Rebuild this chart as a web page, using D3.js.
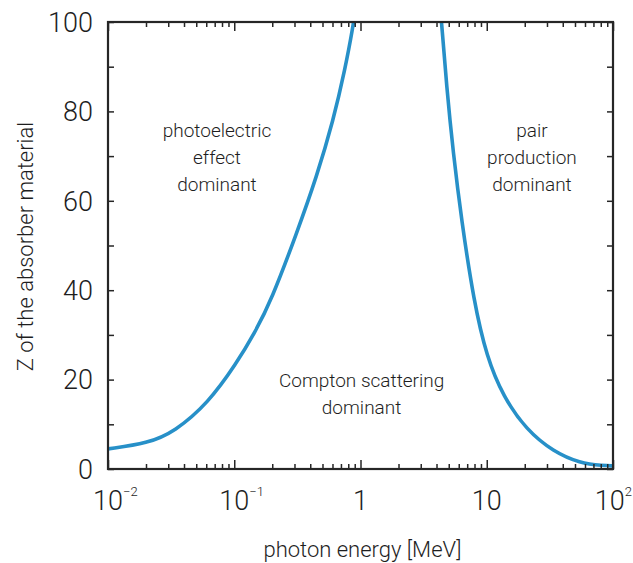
<!DOCTYPE html>
<html>
<head>
<meta charset="utf-8">
<script src="https://cdn.jsdelivr.net/npm/d3@7"></script>
<style>
  body { margin: 0; background: #fff; }
  svg text { font-family: Roboto, "Liberation Sans", sans-serif; font-weight: 300; fill: #1e1e1e; }
</style>
</head>
<body>
<div id="chart"></div>
<script>
// boundary where photoelectric effect and Compton scattering are equally likely
var photoE = [0.01, 0.0207, 0.0337, 0.062, 0.104, 0.145, 0.197, 0.312, 0.45, 0.61, 0.753, 0.877, 0.9];
var photoZ = [4.5, 5.75, 8.35, 14.7, 23.6, 30.4, 37.8, 52.7, 65.4, 78.1, 89.3, 99.3, 102];
// boundary where Compton scattering and pair production are equally likely
var pairE = [4.3, 4.39, 4.81, 5.43, 6.31, 7.9, 9.98, 13.5, 20.7, 33.7, 54.8, 83.8, 100];
var pairZ = [102, 100, 85.5, 70.6, 55.7, 37.5, 25.1, 16.2, 8.7, 3.9, 1.3, 0.75, 0.7];

var xTicks = [0.01, 0.1, 1, 10, 100];
var xTickBase = ["10", "10", "1", "10", "10"];
var xTickExp = ["\u22122", "\u22121", "", "", "2"];
var yTicks = [0, 20, 40, 60, 80, 100];

var regionLabels = [
  { lines: ["photoelectric", "effect", "dominant"], x: 0.073, z: 74.3 },
  { lines: ["Compton scattering", "dominant"], x: 1.02, z: 18.3 },
  { lines: ["pair", "production", "dominant"], x: 22.8, z: 74.3 }
];

var width = 633, height = 563,
    margin = { top: 22, right: 20, bottom: 94, left: 108 },
    w = width - margin.left - margin.right,
    h = height - margin.top - margin.bottom,
    ink = "#262626",
    lineColor = "#2790c8";

var svg = d3.select("#chart").append("svg")
  .attr("width", width)
  .attr("height", height);

var g = svg.append("g")
  .attr("transform", "translate(" + margin.left + "," + margin.top + ")");

var x = d3.scaleLog().domain([0.01, 100]).range([0, w]);
var y = d3.scaleLinear().domain([0, 100]).range([h, 0]);

g.append("clipPath").attr("id", "plot-clip")
  .append("rect").attr("width", w).attr("height", h);

// curves (B-spline through the read-off points, smooths reading noise)
var line = d3.line()
  .x(function (d) { return x(d[0]); })
  .y(function (d) { return y(d[1]); })
  .curve(d3.curveBasis);

[[photoE, photoZ], [pairE, pairZ]].forEach(function (s) {
  g.append("path")
    .datum(s[0].map(function (e, i) { return [e, s[1][i]]; }))
    .attr("clip-path", "url(#plot-clip)")
    .attr("fill", "none")
    .attr("stroke", lineColor)
    .attr("stroke-width", 3.6)
    .attr("d", line);
});

// inner ticks on all four sides
var minorX = [];
[0.01, 0.1, 1, 10].forEach(function (dec) {
  for (var k = 2; k <= 9; k++) minorX.push(dec * k);
});
var yMinor = d3.range(0, 101, 10);

function tickAxis(axis, vals, size) {
  return axis.tickValues(vals).tickSizeInner(size).tickSizeOuter(0).tickFormat("");
}

var axes = [
  g.append("g").attr("transform", "translate(0," + h + ")").call(tickAxis(d3.axisTop(x), minorX, 5)),
  g.append("g").attr("transform", "translate(0," + h + ")").call(tickAxis(d3.axisTop(x), xTicks, 9)),
  g.append("g").call(tickAxis(d3.axisBottom(x), minorX, 5)),
  g.append("g").call(tickAxis(d3.axisBottom(x), xTicks, 9)),
  g.append("g").call(tickAxis(d3.axisRight(y), yMinor, 6)),
  g.append("g").attr("transform", "translate(" + w + ",0)").call(tickAxis(d3.axisLeft(y), yMinor, 6))
];
axes.forEach(function (a) {
  a.select(".domain").remove();
  a.selectAll(".tick line").attr("stroke", ink).attr("stroke-width", 1.5);
});

// frame
g.append("rect")
  .attr("width", w).attr("height", h)
  .attr("fill", "none")
  .attr("stroke", ink)
  .attr("stroke-width", 2.2);

// y tick labels
g.selectAll("text.ylab").data(yTicks).enter().append("text")
  .attr("class", "ylab")
  .attr("x", -15)
  .attr("y", function (d) { return y(d); })
  .attr("dy", "0.36em")
  .attr("text-anchor", "end")
  .style("font-size", "27px")
  .text(function (d) { return d; });

// x tick labels: base centred on the tick, exponent as a raised tspan,
// nudged left only if it would run past the right edge
xTicks.forEach(function (v, i) {
  var t = g.append("text")
    .attr("y", h + 41)
    .style("font-size", "27px");
  var base = t.append("tspan").text(xTickBase[i]);
  var bw = base.node().getComputedTextLength();
  if (xTickExp[i]) {
    t.append("tspan")
      .attr("dy", -14)
      .style("font-size", "13px")
      .text(xTickExp[i]);
  }
  var total = t.node().getComputedTextLength();
  var left = x(v) - bw / 2;
  left = Math.min(left, width - margin.left - 1 - total);
  t.attr("x", left);
});

// axis titles
g.append("text")
  .attr("x", w / 2 + 2)
  .attr("y", h + 88)
  .attr("text-anchor", "middle")
  .style("font-size", "22px")
  .text("photon energy [MeV]");

g.append("text")
  .attr("transform", "translate(" + (33 - margin.left) + "," + (h / 2 + 1) + ") rotate(-90)")
  .attr("text-anchor", "middle")
  .style("font-size", "22px")
  .text("Z of the absorber material");

// region labels
regionLabels.forEach(function (r) {
  var t = g.append("text")
    .attr("text-anchor", "middle")
    .style("font-size", "19px");
  r.lines.forEach(function (s, i) {
    t.append("tspan")
      .attr("x", x(r.x))
      .attr("y", y(r.z) + i * 27)
      .text(s);
  });
});
</script>
</body>
</html>
